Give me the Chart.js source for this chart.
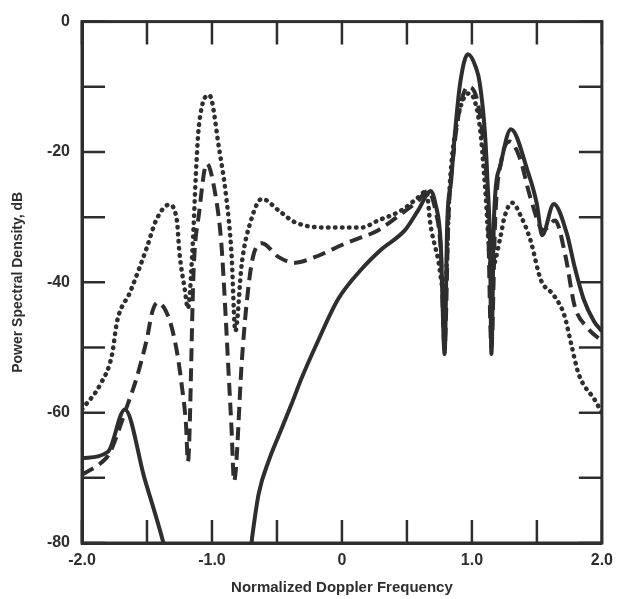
<!DOCTYPE html>
<html>
<head>
<meta charset="utf-8">
<script src="https://cdn.jsdelivr.net/npm/chart.js@4/dist/chart.umd.min.js"></script>
<style>
  html, body { margin: 0; padding: 0; background: #fff; }
  #wrap { width: 621px; height: 599px; }
</style>
</head>
<body>
<div id="wrap"><canvas id="psd"></canvas></div>
<script>
// solid curve
const solidFreq = [-2.0, -1.8, -1.67, -1.52, -1.38, -1.3, -0.72, -0.69, -0.64, -0.56, -0.49, -0.39, -0.31, -0.2, -0.03, 0.15, 0.3, 0.485, 0.585, 0.685, 0.72, 0.76, 0.79, 0.81, 0.84, 0.87, 0.91, 0.97, 1.03, 1.06, 1.1, 1.12, 1.14, 1.15, 1.17, 1.22, 1.3, 1.43, 1.5, 1.54, 1.63, 1.73, 1.79, 1.86, 1.94, 2.0];
const solidDb   = [-67, -66, -59.5, -70, -79.5, -86, -84, -79, -72.4, -67.2, -63.7, -58.8, -54.7, -49.7, -42.6, -38, -35, -32, -29, -26, -28, -34, -51, -31, -24.5, -17, -9.4, -5, -7, -9.4, -17, -24.5, -35, -51, -30, -22, -16.5, -23, -28, -32.8, -28, -32.5, -37.6, -42.6, -46, -47.5];

// dashed curve
const dashedFreq = [-2.0, -1.86, -1.79, -1.65, -1.58, -1.5, -1.46, -1.42, -1.33, -1.27, -1.23, -1.2, -1.185, -1.14, -1.1, -1.04, -0.97, -0.93, -0.91, -0.89, -0.87, -0.85, -0.83, -0.77, -0.74, -0.69, -0.615, -0.49, -0.36, -0.23, 0.03, 0.28, 0.455, 0.585, 0.66, 0.72, 0.76, 0.79, 0.82, 0.86, 0.91, 0.97, 1.04, 1.09, 1.12, 1.15, 1.18, 1.23, 1.29, 1.37, 1.45, 1.55, 1.64, 1.72, 1.79, 1.89, 2.0];
const dashedDb   = [-69.5, -67.8, -66.3, -58.8, -54.7, -48.6, -44.6, -43.1, -45.6, -50.6, -56.2, -61.8, -67.5, -37.6, -29.5, -21.8, -27, -33.5, -39.6, -47, -54.7, -62.2, -70.5, -52, -44.6, -36.6, -34, -36.1, -37, -36.3, -34, -32, -29.5, -27.5, -26, -29, -35, -50, -30, -20, -13, -10, -12, -19, -27, -50, -30, -21, -18.4, -21, -27, -32, -30.5, -36, -43.6, -47, -49];

// dotted curve
const dottedFreq = [-2.0, -1.86, -1.77, -1.73, -1.63, -1.5, -1.43, -1.33, -1.27, -1.25, -1.21, -1.185, -1.15, -1.12, -1.1, -1.02, -0.945, -0.89, -0.85, -0.82, -0.77, -0.7, -0.615, -0.486, -0.36, -0.1, 0.15, 0.28, 0.455, 0.585, 0.65, 0.68, 0.74, 0.79, 0.83, 0.88, 0.98, 1.06, 1.1, 1.15, 1.22, 1.25, 1.31, 1.38, 1.45, 1.53, 1.63, 1.71, 1.77, 1.82, 1.95, 2.0];
const dottedDb   = [-59.5, -55.7, -51.2, -46, -41.5, -34.6, -30.5, -28.1, -30.5, -35.5, -41, -44, -35, -21.9, -15.9, -11.3, -19.5, -27, -35.5, -47.5, -37, -30.5, -27.2, -29, -30.8, -31.6, -31.6, -30.5, -29, -27, -26, -31, -36.5, -42, -25, -16, -11, -16, -25, -38, -33, -30, -27.8, -30, -33.5, -39.6, -42, -45, -50, -54, -58.2, -60];

// axis ticks
const xTickValues = [-2, -1, 0, 1, 2];
const xTickLabels = ['-2.0', '-1.0', '0', '1.0', '2.0'];
const yTickValues = [0, -20, -40, -60, -80];
const yTickLabels = ['0', '-20', '-40', '-60', '-80'];

const ink = '#2e2e2e';

function pts(xs, ys) {
  return xs.map((x, i) => ({ x: x, y: ys[i] }));
}

// inward tick marks on all four sides + top/right frame
const frameTicks = {
  id: 'frameTicks',
  afterDatasetsDraw(chart) {
    const { ctx, chartArea: a, scales } = chart;
    const len = 23;
    ctx.save();
    ctx.strokeStyle = ink;
    ctx.lineWidth = 2.5;
    ctx.beginPath();
    scales.x.ticks.forEach((t) => {
      const px = scales.x.getPixelForValue(t.value);
      ctx.moveTo(px, a.bottom); ctx.lineTo(px, a.bottom - len);
      ctx.moveTo(px, a.top); ctx.lineTo(px, a.top + len);
    });
    scales.y.ticks.forEach((t) => {
      const py = scales.y.getPixelForValue(t.value);
      ctx.moveTo(a.left, py); ctx.lineTo(a.left + len, py);
      ctx.moveTo(a.right, py); ctx.lineTo(a.right - len, py);
    });
    ctx.stroke();
    ctx.lineWidth = 3;
    ctx.strokeRect(a.left, a.top, a.right - a.left, a.bottom - a.top);
    ctx.restore();
  }
};

const common = {
  borderColor: ink,
  borderWidth: 4,
  pointRadius: 0,
  fill: false,
  cubicInterpolationMode: 'monotone',
};

new Chart(document.getElementById('psd').getContext('2d'), {
  type: 'line',
  data: {
    datasets: [
      Object.assign({ label: 'solid', data: pts(solidFreq, solidDb) }, common),
      Object.assign({ label: 'dashed', data: pts(dashedFreq, dashedDb), borderDash: [13, 7] }, common),
      Object.assign({ label: 'dotted', data: pts(dottedFreq, dottedDb), borderDash: [0.5, 6.5], borderCapStyle: 'round' }, common, { borderWidth: 4.5 }),
    ],
  },
  options: {
    responsive: true,
    maintainAspectRatio: false,
    animation: false,
    events: [],
    layout: { padding: { top: 18, right: 16, left: 0, bottom: 0 } },
    plugins: { legend: { display: false }, tooltip: { enabled: false } },
    scales: {
      x: {
        type: 'linear',
        min: -2,
        max: 2,
        afterFit: (s) => { s.height = 56; },
        grid: { drawOnChartArea: false, drawTicks: false },
        border: { color: ink, width: 3 },
        ticks: {
          stepSize: 0.5,
          autoSkip: false,
          maxRotation: 0,
          padding: 8,
          color: ink,
          font: { family: 'Liberation Sans', size: 16, weight: 'bold' },
          callback: (v) => {
            const i = xTickValues.indexOf(v);
            return i >= 0 ? xTickLabels[i] : '';
          },
        },
        title: {
          display: true,
          text: 'Normalized Doppler Frequency',
          color: ink,
          font: { family: 'Liberation Sans', size: 15, weight: 'bold' },
          padding: { top: 0, bottom: 2 },
        },
      },
      y: {
        min: -80,
        max: 0,
        afterFit: (s) => { s.width = 82; },
        grid: { drawOnChartArea: false, drawTicks: false },
        border: { color: ink, width: 3 },
        ticks: {
          stepSize: 10,
          autoSkip: false,
          padding: 12,
          color: ink,
          font: { family: 'Liberation Sans', size: 16, weight: 'bold' },
          callback: (v) => {
            const i = yTickValues.indexOf(v);
            return i >= 0 ? yTickLabels[i] : '';
          },
        },
        title: {
          display: true,
          text: 'Power Spectral Density, dB',
          color: ink,
          font: { family: 'Liberation Sans', size: 14, weight: 'bold' },
          padding: { top: 10, bottom: 0 },
        },
      },
    },
  },
  plugins: [frameTicks],
});
</script>
</body>
</html>
